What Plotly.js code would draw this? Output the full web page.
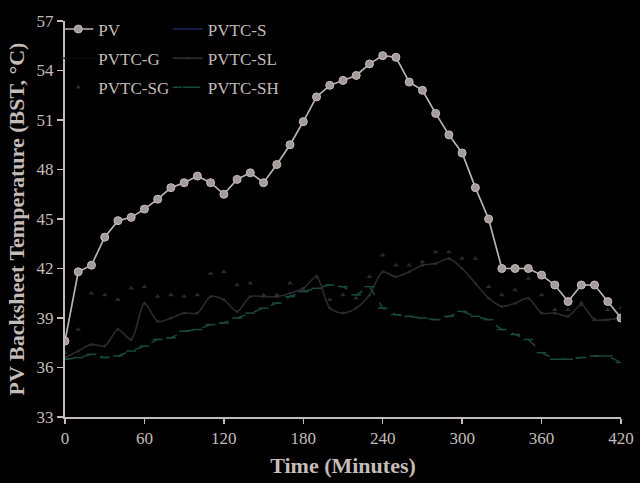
<!DOCTYPE html>
<html>
<head>
<meta charset="utf-8">
<script src="https://cdn.plot.ly/plotly-3.0.1.min.js"></script>
<style>
  html, body { margin: 0; padding: 0; background: #000; }
  #chart { width: 640px; height: 483px; }
</style>
</head>
<body>
<div id="chart"></div>
<script>
// time in minutes, 10 min steps
const minutes = [0, 10, 20, 30, 40, 50, 60, 70, 80, 90, 100, 110, 120, 130, 140, 150, 160, 170, 180, 190, 200,
    210, 220, 230, 240, 250, 260, 270, 280, 290, 300, 310, 320, 330, 340, 350, 360, 370, 380, 390, 400, 410, 420];

const pv = [37.6, 41.8, 42.2, 43.9, 44.9, 45.1, 45.6, 46.2, 46.9, 47.2, 47.6, 47.2, 46.5, 47.4, 47.8, 47.2, 48.3,
    49.5, 50.9, 52.4, 53.1, 53.4, 53.7, 54.4, 54.9, 54.8, 53.3, 52.8, 51.4, 50.1, 49.0, 46.9, 45.0,
    42.0, 42.0, 42.0, 41.6, 41.0, 40.0, 41.0, 41.0, 40.0, 39.0];

// hidden under PV line, only shows where PV falls
const pvtc_s = pv;

// nothing of this one shows on the picture
const pvtc_g = minutes.map(() => null);

const pvtc_sl = [36.6, 37.0, 37.4, 37.3, 38.3, 37.7, 39.9, 38.8, 39.0, 39.3, 39.3, 40.3, 40.1, 39.4, 40.3, 40.3, 40.3,
    40.5, 40.8, 41.5, 39.6, 39.3, 39.6, 40.4, 41.8, 41.5, 41.8, 42.2, 42.3, 42.6, 42.0, 41.1, 40.2,
    39.7, 39.9, 40.2, 39.3, 39.3, 39.1, 39.8, 38.9, 38.9, 39.0];

const pvtc_sg = [36.9, 38.3, 40.5, 40.4, 40.1, 40.8, 40.9, 40.3, 40.4, 40.3, 40.4, 41.7, 41.8, 41.0, 41.1, 40.4, 40.4,
    41.1, 40.7, 41.5, 40.1, 40.4, 40.2, 41.5, 42.8, 42.2, 42.2, 42.4, 43.0, 43.0, 42.6, 42.6, 40.9,
    40.4, 40.7, 41.4, 40.4, 39.5, 39.5, 39.9, 38.9, 39.5, 39.6];

const pvtc_sh = [36.5, 36.6, 36.8, 36.6, 36.7, 37.0, 37.3, 37.7, 37.8, 38.2, 38.3, 38.6, 38.7, 39.0, 39.3, 39.6, 39.9,
    40.3, 40.6, 40.8, 41.0, 40.9, 40.4, 40.9, 39.6, 39.2, 39.1, 39.0, 38.9, 39.1, 39.4, 39.1, 38.9,
    38.3, 38.0, 37.7, 36.9, 36.5, 36.5, 36.6, 36.7, 36.7, 36.3];

const xTicks = [0, 60, 120, 180, 240, 300, 360, 420];
const yTicks = [33, 36, 39, 42, 45, 48, 51, 54, 57];

const ink = "#c4bcb8";
const serif = "'Liberation Serif', 'Times New Roman', serif";

const traces = [
    {
        name: "PVTC-S", x: minutes, y: pvtc_s, type: "scatter", mode: "lines",
        line: {color: "#1c2460", width: 1.6}, legend: "legend2", legendrank: 1, legendgroup: "s",
    },
    {
        name: "PVTC-G", x: minutes, y: pvtc_g, type: "scatter", mode: "lines",
        line: {color: "#0a0a0a", width: 1.5}, legend: "legend", legendrank: 2, legendgroup: "g",
    },
    {
        name: "PVTC-SL", x: minutes, y: pvtc_sl, type: "scatter", mode: "lines+markers",
        line: {color: "#2c2a31", width: 1.6, shape: "spline", smoothing: 0.8},
        marker: {symbol: "circle", size: 3, color: "#2c2a31"}, legend: "legend2", legendrank: 2, legendgroup: "sl",
    },
    {
        name: "PVTC-SG", x: minutes, y: pvtc_sg, type: "scatter", mode: "markers",
        marker: {symbol: "triangle-up", size: 5, color: "#2b2929"}, legend: "legend", legendrank: 3, legendgroup: "sg",
    },
    {
        name: "PVTC-SH", x: minutes, y: pvtc_sh, type: "scatter", mode: "lines+markers",
        line: {color: "#194840", width: 1.5, dash: "dash"},
        marker: {symbol: "line-ew-open", size: 7, line: {color: "#1c5349", width: 1.5}},
        legend: "legend2", legendrank: 3, legendgroup: "sh",
    },
    {
        name: "PV", x: minutes, y: pv, type: "scatter", mode: "lines+markers",
        line: {color: "#bdb3b0", width: 1.6},
        marker: {symbol: "circle", size: 8, color: "#a39b99", line: {color: "#c8bfbc", width: 1}},
        legend: "legend", legendrank: 1, legendgroup: "pv",
    },
];

const legendBase = {
    orientation: "v", yanchor: "top", y: 1.024, xanchor: "left",
    bgcolor: "rgba(0,0,0,0)", font: {family: serif, size: 17, color: ink},
    traceorder: "grouped", tracegroupgap: 4, itemwidth: 30,
};

const layout = {
    width: 640, height: 483,
    paper_bgcolor: "#000", plot_bgcolor: "#000",
    margin: {l: 65, r: 19, t: 11, b: 66},
    font: {family: serif, color: ink},
    showlegend: true,
    legend: Object.assign({}, legendBase, {x: -0.012}),
    legend2: Object.assign({}, legendBase, {x: 0.185}),
    xaxis: {
        range: [0, 420], tickvals: xTicks, ticktext: xTicks.map(String),
        showgrid: false, zeroline: false, showline: true, linecolor: ink, linewidth: 2,
        ticks: "outside", ticklen: 5, tickwidth: 1.5, tickcolor: ink,
        tickfont: {family: serif, size: 17, color: ink},
        title: {text: "<b>Time (Minutes)</b>", font: {family: serif, size: 22, color: ink}, standoff: 10},
    },
    yaxis: {
        range: [33, 57], tickvals: yTicks, ticktext: yTicks.map(String),
        showgrid: false, zeroline: false, showline: true, linecolor: ink, linewidth: 2,
        ticks: "outside", ticklen: 6, tickwidth: 1.5, tickcolor: ink,
        tickfont: {family: serif, size: 17, color: ink},
        title: {text: "<b>PV Backsheet Temperature (BST, °C)</b>", font: {family: serif, size: 22, color: ink}, standoff: 6},
    },
};

Plotly.newPlot("chart", traces, layout, {displayModeBar: false, staticPlot: true});
</script>
</body>
</html>
